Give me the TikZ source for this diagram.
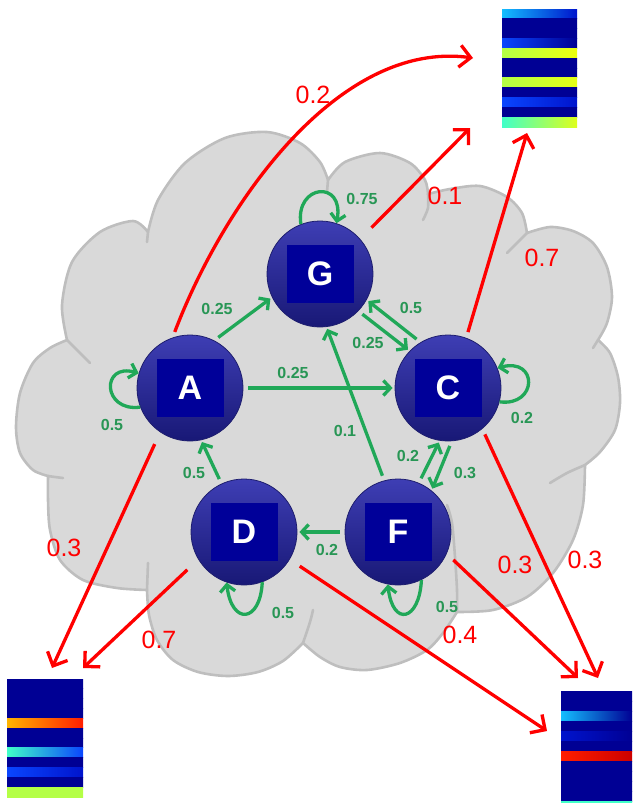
\documentclass[tikz,border=0pt]{standalone}
\usepackage{fontspec}
\setmainfont{Liberation Sans}
\usepackage{xcolor}
\usepackage{tikz}
\usetikzlibrary{arrows.meta}

\definecolor{cloudfill}{RGB}{217,217,217}
\definecolor{cloudline}{RGB}{190,190,190}
\definecolor{linkgreen}{RGB}{32,168,88}
\definecolor{labelgreen}{RGB}{40,150,85}
\definecolor{balltop}{RGB}{62,62,180}
\definecolor{ballmid}{RGB}{38,38,160}
\definecolor{ballbot}{RGB}{24,24,118}
\definecolor{ballrim}{RGB}{30,30,110}
\definecolor{boxblue}{RGB}{0,0,153}
\definecolor{hmnavy}{RGB}{0,0,148}
\definecolor{hmdblue}{RGB}{0,20,205}
\definecolor{hmblue}{RGB}{10,70,255}
\definecolor{hmsky}{RGB}{20,190,255}
\definecolor{hmaqua}{RGB}{64,255,200}
\definecolor{hmlime}{RGB}{180,255,70}
\definecolor{hmyel}{RGB}{250,255,0}
\definecolor{hmorange}{RGB}{255,180,0}
\definecolor{hmred}{RGB}{255,30,0}

\begin{document}
\begin{tikzpicture}[x=1pt,y=-1pt,line join=round,
    state/.style={circle,minimum size=106pt,inner sep=0pt,
        top color=balltop,middle color=ballmid,bottom color=ballbot,
        draw=ballrim,line width=0.8pt,text=white,
        font=\bfseries\fontsize{34}{34}\selectfont,
        path picture={\fill[boxblue] (path picture bounding box.center)
            +(-33.5,-29) rectangle +(33.5,29);}},
    link/.style={draw=linkgreen,line width=3.3pt,shorten <=5pt,shorten >=2pt,
        -{Straight Barb[length=7pt,width=15pt]}},
    selfloop/.style={draw=linkgreen,line width=3.3pt,
        -{Straight Barb[length=7pt,width=15pt]}},
    emit/.style={draw=red,line width=3.3pt,
        -{Straight Barb[length=11pt,width=22pt]}},
    prob/.style={text=labelgreen,font=\bfseries\fontsize{16}{16}\selectfont},
    eprob/.style={text=red,font=\fontsize{25}{25}\selectfont}]

\useasboundingbox (0,0) rectangle (632,803);
\clip (0,0) rectangle (632,803);

% cloud
\filldraw[fill=cloudfill,draw=cloudline,line width=2.6pt]
  plot[smooth] coordinates {(67,340) (62,305) (72,262) (100,232) (133,221) (148,232)}
  -- plot[smooth] coordinates {(148,232) (158,200) (185,163) (225,138) (267,132) (300,143) (320,162) (328,180)}
  -- plot[smooth] coordinates {(328,180) (345,162) (380,153) (410,163) (425,180) (428,194)}
  -- plot[smooth] coordinates {(428,194) (450,189) (480,186) (507,197) (522,213) (527,233)}
  -- plot[smooth] coordinates {(527,233) (550,227) (573,231) (593,243) (607,267) (612,297) (607,323) (598,340)}
  -- plot[smooth] coordinates {(598,340) (610,353) (618,377) (620,403) (615,430) (600,452) (585,465)}
  -- plot[smooth] coordinates {(585,465) (583,505) (573,540) (553,573) (527,597) (493,610) (457,612)}
  -- plot[smooth] coordinates {(457,612) (443,633) (427,650) (400,663) (367,670) (340,667) (320,657) (303,643)}
  -- plot[smooth] coordinates {(303,643) (283,661) (258,672) (228,676) (198,672) (173,660) (157,640) (149,615) (147,590)}
  -- plot[smooth] coordinates {(147,590) (117,588) (83,580) (60,560) (50,530) (48,500) (48,476)}
  -- plot[smooth] coordinates {(48,476) (33,470) (20,453) (16,427) (20,393) (33,363) (50,348) (67,340)}
  -- cycle;
\begin{scope}[draw=cloudline,line width=2.6pt,line cap=round]
  \draw plot[smooth] coordinates {(67,340) (77,350) (90,363)};
  \draw (148,232) -- (147,242);
  \draw (328,180) -- (327,192);
  \draw plot[smooth] coordinates {(428,194) (428,208) (423,220)};
  \draw plot[smooth] coordinates {(527,233) (517,243) (507,253)};
  \draw (598,340) -- (593,348);
  \draw plot[smooth] coordinates {(585,465) (567,473) (550,483)};
  \draw plot[smooth] coordinates {(457,612) (457,590) (455,557) (452,523) (447,505)};
  \draw plot[smooth] coordinates {(303,643) (310,622) (313,610)};
  \draw (147,590) -- (148,563);
  \draw plot[smooth] coordinates {(48,476) (55,477) (63,478)};
\end{scope}

% heat maps
\foreach \l/\m/\r [count=\i from 0] in {hmsky/hmblue/hmdblue, hmnavy/hmnavy/hmnavy,
    hmnavy/hmnavy/hmnavy, hmblue/hmdblue/hmnavy, hmlime/hmlime/hmyel!80!hmlime,
    hmnavy/hmnavy/hmnavy, hmnavy/hmnavy/hmnavy, hmlime/hmyel/hmyel!70!hmlime,
    hmnavy/hmnavy/hmnavy, hmblue/hmblue/hmdblue, hmnavy/hmnavy/hmnavy,
    hmaqua/hmyel/hmyel!60!hmlime}
  \shade[left color=\l,middle color=\m,right color=\r] (502,{9+\i*9.84}) rectangle +(75,9.9);
\foreach \l/\m/\r [count=\i from 0] in {hmnavy/hmnavy/hmnavy, hmnavy/hmnavy/hmnavy,
    hmnavy/hmnavy/hmnavy, hmnavy/hmnavy/hmnavy, hmorange/hmorange!50!hmred/hmred,
    hmnavy/hmnavy/hmnavy, hmnavy/hmnavy/hmnavy, hmaqua/hmsky/hmblue,
    hmnavy/hmnavy/hmnavy, hmblue/hmblue/hmdblue, hmnavy/hmnavy/hmnavy,
    hmlime/hmyel/hmlime}
  \shade[left color=\l,middle color=\m,right color=\r] (7,{679+\i*9.84}) rectangle +(76,9.9);
\foreach \l/\m/\r [count=\i from 0] in {hmnavy/hmnavy/hmnavy, hmnavy/hmnavy/hmnavy,
    hmsky/hmblue/hmnavy, hmnavy/hmnavy/hmnavy, hmdblue/hmdblue/hmnavy,
    hmnavy/hmnavy/hmnavy, hmred/hmred!70!hmorange/red!80!black,
    hmnavy/hmnavy/hmnavy, hmnavy/hmnavy/hmnavy, hmnavy/hmnavy/hmnavy,
    hmnavy/hmnavy/hmnavy, hmaqua/hmyel/hmaqua}
  \shade[left color=\l,middle color=\m,right color=\r] (561,{691+\i*10}) rectangle +(71,10.1);

% states
\node[state] (G) at (320,274) {G};
\node[state] (A) at (190,388) {A};
\node[state] (C) at (448,388) {C};
\node[state] (D) at (244,532) {D};
\node[state] (F) at (398,532) {F};

% ends of the emission arrows
\coordinate (upA) at (473,58);
\coordinate (upG) at (470,128);
\coordinate (upC) at (527,133);
\coordinate (lowA) at (52,668);
\coordinate (lowD) at (83,668);
\coordinate (rightD) at (547,731);
\coordinate (rightF) at (578,678);
\coordinate (rightC) at (598,678);

% emissions
\draw[emit,shorten <=6pt] (A.109) .. controls (225,200) and (340,40) .. (upA);
\draw[emit,shorten <=16pt] (G.41) -- (upG);
\draw[emit,shorten <=6pt] (C.70) -- (upC);
\draw[emit,shorten <=13pt] (A.236) -- (lowA);
\draw[emit,shorten <=15pt] (D.211) -- (lowD);
\draw[emit,shorten <=12pt] (D.329) -- (rightD);
\draw[emit,shorten <=9pt] (F.336) -- (rightF);
\draw[emit,shorten <=6pt] (C.310) -- (rightC);

% transitions
\draw[link] (A.63) -- (G.206);
\draw[link] (A.east) -- (C.west);
\draw[link] (G.316) -- (C.136);
\draw[link] (C.121) -- (G.331);
\draw[link] (F.105) -- (G.277);
\draw[link] (F.67) -- (C.261);
\draw[link] (C.274) -- (F.51);
\draw[link] (D.115) -- (A.282);
\draw[link] (F.west) -- (D.east);
\draw[selfloop] (G.111) .. controls +(-6,-40) and +(8,-44) .. (G.72);
\draw[selfloop] (A.201) .. controls +(-38,5) and +(-38,-11) .. (A.164);
\draw[selfloop] (C.-15) .. controls +(38,5) and +(41,-11) .. (C.22);
\draw[selfloop] (D.290) .. controls +(-2,41) and +(5,43) .. (D.251);
\draw[selfloop] (F.296) .. controls +(-2,41) and +(5,43) .. (F.259);

% transition weights
\node[prob] (wGG) at (362,199) {0.75};
\node[prob] (wAG) at (217,309) {0.25};
\node[prob] (wAC) at (293,373) {0.25};
\node[prob] (wAA) at (112,425) {0.5};
\node[prob] (wGC) at (368,343) {0.25};
\node[prob] (wCG) at (411,308) {0.5};
\node[prob] (wCC) at (522,418) {0.2};
\node[prob] (wFG) at (345,431) {0.1};
\node[prob] (wFC) at (408,456) {0.2};
\node[prob] (wCF) at (465,473) {0.3};
\node[prob] (wDA) at (194,473) {0.5};
\node[prob] (wFD) at (327,550) {0.2};
\node[prob] (wDD) at (283,613) {0.5};
\node[prob] (wFF) at (447,607) {0.5};

% emission weights
\node[eprob] (eA1) at (313,95) {0.2};
\node[eprob] (eG1) at (445,196) {0.1};
\node[eprob] (eC1) at (542,258) {0.7};
\node[eprob] (eA2) at (64,548) {0.3};
\node[eprob] (eD2) at (159,640) {0.7};
\node[eprob] (eF3) at (515,565) {0.3};
\node[eprob] (eC3) at (585,560) {0.3};
\node[eprob] (eD3) at (460,635) {0.4};
\end{tikzpicture}
\end{document}
